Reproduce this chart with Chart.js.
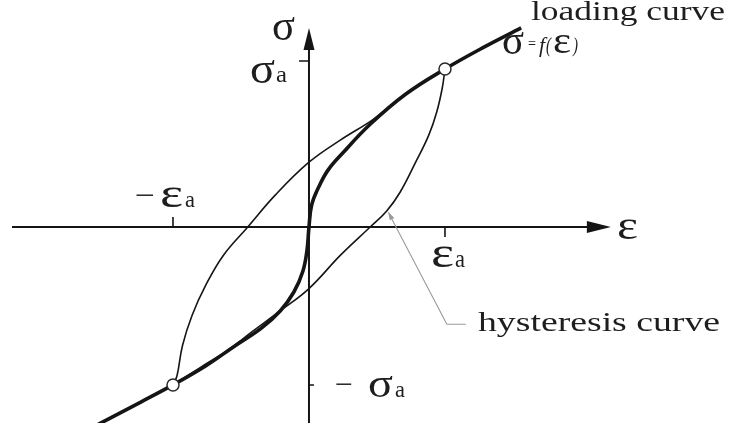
<!DOCTYPE html>
<html>
<head>
<meta charset="utf-8">
<script src="https://cdn.jsdelivr.net/npm/chart.js@4.4.1/dist/chart.umd.min.js"></script>
<style>
  html, body { margin: 0; padding: 0; background: #fff; }
  #wrap { width: 739px; height: 423px; }
</style>
</head>
<body>
<div id="wrap"><canvas id="loop"></canvas></div>
<script>
// strain ε and stress σ, both in units of the amplitude (εa = σa = 1)
const loadingEps = [-1.55, -1.24, -1.00, -0.76, -0.54, -0.35, -0.21, -0.11, -0.045, -0.015, 0, 0.02, 0.07, 0.14, 0.25, 0.45, 0.71, 1.00, 1.29, 1.56];
const loadingSig = [-1.25, -1.11, -1.00, -0.88, -0.75, -0.64, -0.53, -0.41, -0.28, -0.15, 0, 0.14, 0.25, 0.36, 0.47, 0.65, 0.84, 1.00, 1.14, 1.26];

// hysteresis loop: branch coming up from -εa and branch going down from +εa
const upperEps = [-1.00, -0.97, -0.93, -0.86, -0.76, -0.63, -0.45, -0.25, 0, 0.23, 0.47, 0.71, 1.00];
const upperSig = [-1.00, -0.94, -0.75, -0.56, -0.37, -0.18, 0, 0.20, 0.41, 0.55, 0.68, 0.84, 1.00];
const lowerEps = [-1.00, -0.80, -0.58, -0.43, -0.21, 0, 0.23, 0.45, 0.57, 0.67, 0.79, 0.88, 0.94, 0.98, 1.00];
const lowerSig = [-1.00, -0.89, -0.77, -0.67, -0.53, -0.39, -0.18, 0, 0.10, 0.22, 0.42, 0.58, 0.73, 0.88, 1.00];

// turning points of the loop
const turnEps = [-1, 1];
const turnSig = [-1, 1];

const toPoints = (xs, ys) => xs.map((x, i) => ({ x: x, y: ys[i] }));

const INK = '#151515';
const SERIF = '"Liberation Serif", "Times New Roman", serif';

// draws text, optionally stretched to a given width
function label(ctx, str, x, y, size, opts) {
  opts = opts || {};
  ctx.save();
  ctx.font = (opts.italic ? 'italic ' : '') + size + 'px ' + SERIF;
  ctx.fillStyle = opts.color || '#1e1e1e';
  ctx.textAlign = 'left';
  ctx.textBaseline = 'alphabetic';
  const w = ctx.measureText(str).width;
  const sx = opts.width ? opts.width / w : 1;
  ctx.translate(x, y);
  ctx.scale(sx, 1);
  ctx.fillText(str, 0, 0);
  ctx.restore();
  return x + w * sx;
}

function arrowHead(ctx, tipX, tipY, dx, dy, len, half) {
  // dx, dy: unit direction of the arrow
  const bx = tipX - dx * len, by = tipY - dy * len;
  ctx.beginPath();
  ctx.moveTo(tipX, tipY);
  ctx.lineTo(bx - dy * half, by + dx * half);
  ctx.lineTo(bx + dy * half, by - dx * half);
  ctx.closePath();
  ctx.fill();
}

const axesPlugin = {
  id: 'axesPlugin',
  beforeDatasetsDraw(chart) {
    const ctx = chart.ctx;
    const xs = chart.scales.x, ys = chart.scales.y;
    const x0 = xs.getPixelForValue(0), y0 = ys.getPixelForValue(0);
    const xEnd = xs.getPixelForValue(2.22);
    const yEnd = ys.getPixelForValue(1.26);

    ctx.save();
    ctx.strokeStyle = INK;
    ctx.fillStyle = INK;
    ctx.lineWidth = 2;

    // ε axis
    ctx.beginPath();
    ctx.moveTo(chart.chartArea.left + 12, y0);
    ctx.lineTo(xEnd - 10, y0);
    ctx.stroke();
    arrowHead(ctx, xEnd, y0, 1, 0, 24, 6);

    // σ axis
    ctx.beginPath();
    ctx.moveTo(x0, chart.chartArea.bottom);
    ctx.lineTo(x0, yEnd + 10);
    ctx.stroke();
    arrowHead(ctx, x0, yEnd, 0, -1, 22, 5.5);

    // amplitude ticks
    ctx.lineWidth = 1.6;
    const ex = turnEps.map(v => xs.getPixelForValue(v));
    const sy = turnSig.map(v => ys.getPixelForValue(v));
    ctx.beginPath();
    ctx.moveTo(ex[0], y0); ctx.lineTo(ex[0], y0 - 10);
    ctx.moveTo(ex[1], y0); ctx.lineTo(ex[1], y0 + 10);
    ctx.moveTo(x0, sy[1] - 8); ctx.lineTo(x0 - 10, sy[1] - 8);
    ctx.moveTo(x0, sy[0]); ctx.lineTo(x0 + 5, sy[0]);
    ctx.stroke();
    ctx.restore();
  },
  afterDraw(chart) {
    const ctx = chart.ctx;
    const xs = chart.scales.x, ys = chart.scales.y;
    const x0 = xs.getPixelForValue(0), y0 = ys.getPixelForValue(0);
    const xEnd = xs.getPixelForValue(2.22);
    const yEnd = ys.getPixelForValue(1.26);
    const ePos = xs.getPixelForValue(1), eNeg = xs.getPixelForValue(-1);
    const sPos = ys.getPixelForValue(1), sNeg = ys.getPixelForValue(-1);

    // axis names
    label(ctx, 'σ', x0 - 37, yEnd + 12, 44, { width: 23 });
    label(ctx, 'ε', xEnd + 6, y0 + 12, 40, { width: 21 });

    // amplitude labels
    let x = label(ctx, 'σ', x0 - 59, sPos + 14, 44, { width: 25 });
    label(ctx, 'a', x + 1, sPos + 13, 24, { width: 11 });

    label(ctx, '−', x0 + 26, sNeg + 9, 30, { width: 18 });
    x = label(ctx, 'σ', x0 + 59, sNeg + 12, 40, { width: 25 });
    label(ctx, 'a', x + 2, sNeg + 12, 24, { width: 10 });

    label(ctx, '−', eNeg - 38, y0 - 22, 30, { width: 20 });
    x = label(ctx, 'ε', eNeg - 13, y0 - 20, 42, { width: 23 });
    label(ctx, 'a', x + 2, y0 - 20, 24, { width: 10 });

    x = label(ctx, 'ε', ePos - 14, y0 + 40, 44, { width: 23 });
    label(ctx, 'a', x + 1, y0 + 40, 26, { width: 10 });

    // loading curve name and its law
    label(ctx, 'loading curve', 531, 20, 27, { width: 194 });
    x = label(ctx, 'σ', 502, 54, 42, { width: 22 });
    x = label(ctx, '=', x + 4, 49, 16, { width: 8 });
    x = label(ctx, 'f', x + 3, 52, 21, { italic: true, width: 6 });
    x = label(ctx, '(', x + 1, 52, 21, { italic: true, width: 5 });
    x = label(ctx, 'ε', x + 2, 53, 38, { width: 18 });
    label(ctx, ')', x + 2, 52, 21, { italic: true, width: 5 });

    // leader to the hysteresis loop
    const tipX = xs.getPixelForValue(0.58), tipY = ys.getPixelForValue(0.10);
    ctx.save();
    ctx.strokeStyle = '#9a9a9a';
    ctx.fillStyle = '#9a9a9a';
    ctx.lineWidth = 1.1;
    ctx.beginPath();
    ctx.moveTo(tipX + 2, tipY + 4);
    ctx.lineTo(tipX + 59, tipY + 113);
    ctx.lineTo(tipX + 78, tipY + 113);
    ctx.stroke();
    const d = Math.hypot(57, 109);
    arrowHead(ctx, tipX, tipY, -57 / d, -109 / d, 9, 2.5);
    ctx.restore();

    label(ctx, 'hysteresis curve', 478, 331, 28, { width: 242 });
  }
};

const thin = {
  showLine: true,
  borderColor: INK,
  borderWidth: 1.6,
  pointRadius: 0,
  tension: 0.4,
  fill: false
};

new Chart(document.getElementById('loop'), {
  type: 'scatter',
  data: {
    datasets: [
      Object.assign({ label: 'upper branch', data: toPoints(upperEps, upperSig), order: 3 }, thin),
      Object.assign({ label: 'lower branch', data: toPoints(lowerEps, lowerSig), order: 3 }, thin),
      {
        label: 'loading curve',
        data: toPoints(loadingEps, loadingSig),
        showLine: true,
        borderColor: INK,
        borderWidth: 3.6,
        pointRadius: 0,
        tension: 0.4,
        order: 2
      },
      {
        label: 'turning points',
        data: toPoints(turnEps, turnSig),
        showLine: false,
        pointStyle: 'circle',
        pointRadius: 6,
        pointBackgroundColor: '#fff',
        pointBorderColor: '#2a2a2a',
        pointBorderWidth: 1.5,
        order: 1
      }
    ]
  },
  options: {
    responsive: true,
    maintainAspectRatio: false,
    animation: false,
    devicePixelRatio: 1,
    layout: { padding: 0, autoPadding: false },
    plugins: {
      legend: { display: false },
      tooltip: { enabled: false },
      title: { display: false }
    },
    scales: {
      x: { type: 'linear', min: -2.272, max: 3.162, display: false },
      y: { type: 'linear', min: -1.241, max: 1.437, display: false }
    }
  },
  plugins: [axesPlugin]
});
</script>
</body>
</html>
